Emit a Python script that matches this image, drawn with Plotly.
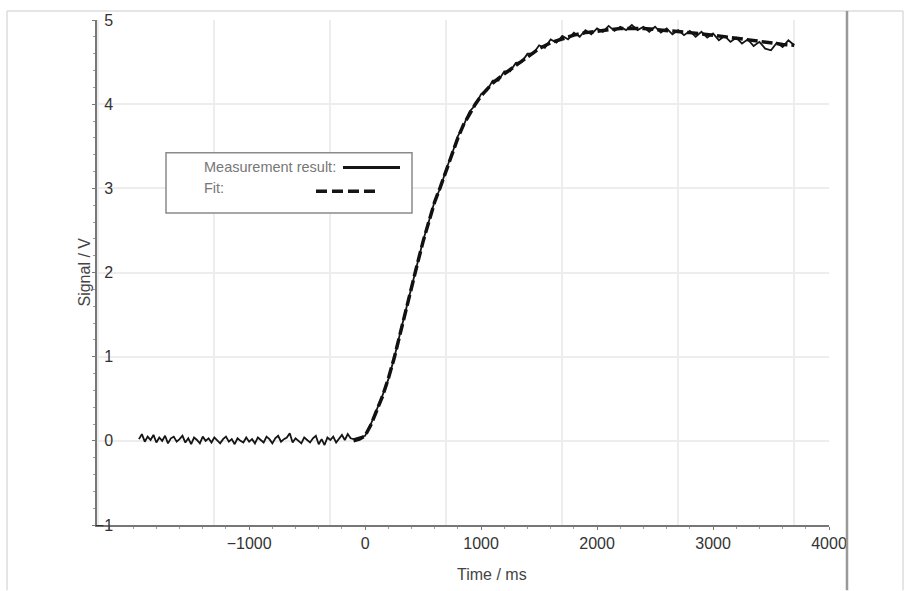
import plotly.graph_objects as go

# ---------------- data ----------------
# baseline part sampled every 25 ms, the rest every 50 ms
meas_t = list(range(-1950, -100, 25)) + list(range(-100, 3701, 50))
meas_v = [
    # baseline -1950..-125 (25 ms)
    0.02, 0.08, -0.01, 0.05, 0.01, 0.07, -0.02, 0.04, 0.00, 0.06,
    -0.03, 0.03, 0.05, -0.01, 0.02, 0.06, -0.02, 0.03, -0.04, 0.04,
    0.01, -0.03, 0.05, 0.00, 0.03, -0.02, 0.04, 0.01, -0.03, 0.02,
    0.05, -0.01, 0.02, -0.04, 0.03, 0.00, -0.02, 0.04, -0.01, 0.02,
    -0.03, 0.04, 0.01, -0.02, 0.05, 0.02, -0.03, 0.03, 0.06, -0.01,
    0.02, 0.04, 0.09, -0.02, 0.03, 0.00, -0.03, 0.04, 0.01, -0.02,
    0.03, 0.06, -0.04, 0.02, -0.05, 0.04, 0.01, 0.05, -0.02, 0.03,
    0.07, 0.01, 0.08, 0.03,
    # -100..3700 (50 ms)
    0.02,
    0.04, 0.06, 0.20, 0.36, 0.54, 0.73, 0.98, 1.27, 1.54, 1.84,     # -50..400
    2.10, 2.38, 2.61, 2.85, 3.01, 3.23, 3.41, 3.62, 3.75, 3.91,     # 450..900
    3.99, 4.12, 4.16, 4.28, 4.28, 4.39, 4.39, 4.49, 4.50, 4.60,     # 950..1400
    4.60, 4.70, 4.67, 4.77, 4.73, 4.81, 4.77, 4.85, 4.80, 4.88,     # 1450..1900
    4.83, 4.90, 4.86, 4.93, 4.87, 4.92, 4.88, 4.94, 4.88, 4.92,     # 1950..2400
    4.86, 4.92, 4.85, 4.90, 4.83, 4.88, 4.82, 4.87, 4.80, 4.86,     # 2450..2900
    4.79, 4.84, 4.76, 4.81, 4.74, 4.79, 4.72, 4.77, 4.69, 4.74,     # 2950..3400
    4.66, 4.64, 4.73, 4.68, 4.76, 4.70,                             # 3450..3700
]

fit_t = [-100, -50, 0, 50, 100, 150, 200, 250, 300, 350, 400, 450, 500, 550, 600,
         650, 700, 750, 800, 850, 900, 950, 1000, 1100, 1200, 1300, 1400, 1500,
         1600, 1700, 1800, 1900, 2000, 2200, 2400, 2600, 2800, 3000, 3200, 3400,
         3600, 3700]
fit_v = [0.0, 0.02, 0.06, 0.19, 0.36, 0.53, 0.74, 0.98, 1.26, 1.55, 1.83, 2.1,
         2.37, 2.62, 2.84, 3.02, 3.22, 3.42, 3.6, 3.76, 3.89, 4.0, 4.1, 4.25,
         4.36, 4.46, 4.57, 4.66, 4.73, 4.78, 4.82, 4.85, 4.87, 4.9, 4.9, 4.88,
         4.85, 4.82, 4.78, 4.74, 4.71, 4.70]

x_ticks = [-1000, 0, 1000, 2000, 3000, 4000]
y_ticks = [-1, 0, 1, 2, 3, 4, 5]
series_names = ["Measurement result:", "Fit:"]
x_title = "Time / ms"
y_title = "Signal / V"

# ---------------- layout geometry (pixels) ----------------
W_FIG, H_FIG = 911, 591
L, R, T, B = 97, 829, 15, 525
PW, PH = R - L, B - T


def px(x):
    return (x - L) / PW


def py(y):
    return (B - y) / PH


FONT = "Liberation Sans, Arial, sans-serif"

fig = go.Figure()
fig.add_trace(go.Scatter(x=meas_t, y=meas_v, mode="lines", name=series_names[0],
                         line=dict(color="#151515", width=1.8), showlegend=False))
fig.add_trace(go.Scatter(x=fit_t, y=fit_v, mode="lines", name=series_names[1],
                         line=dict(color="#111111", width=3.5, dash="11px,4px"),
                         showlegend=False))

x_range = [-2312, 4000]

fig.update_layout(
    width=W_FIG, height=H_FIG,
    autosize=False,
    margin=dict(l=L, r=W_FIG - R, t=T, b=H_FIG - B, pad=0),
    paper_bgcolor="white", plot_bgcolor="white",
    font=dict(family=FONT, color="#333"),
    xaxis=dict(range=x_range, showgrid=False, zeroline=False,
               showline=True, linecolor="#777", linewidth=1.5,
               tickmode="array", tickvals=x_ticks,
               ticks="outside", ticklen=3, tickcolor="#777",
               tickfont=dict(size=16, color="#333"),
               minor=dict(ticks="outside", ticklen=2, tickmode="linear",
                          tick0=0, dtick=200, tickcolor="#999")),
    xaxis2=dict(range=x_range, overlaying="x", anchor="y", side="bottom",
                showgrid=True, gridcolor="#ededed", gridwidth=1.5,
                tickmode="linear", tick0=-303, dtick=1000,
                showticklabels=False, ticks="", showline=False, zeroline=False),
    yaxis=dict(range=[-1, 5], showgrid=True, gridcolor="#ededed", gridwidth=1.5,
               zeroline=False, showline=True, linecolor="#777", linewidth=1.5,
               tickmode="array", tickvals=y_ticks,
               ticks="outside", ticklen=3, tickcolor="#777",
               ticklabelstandoff=-24,
               tickfont=dict(size=16, color="#333"),
               minor=dict(ticks="outside", ticklen=2, tickmode="linear",
                          tick0=0, dtick=0.2, tickcolor="#999")),
)

# hidden helper so the grid axis is rendered
fig.add_trace(go.Scatter(x=[fit_t[0]], y=[fit_v[0]], xaxis="x2", mode="lines",
                         opacity=0, hoverinfo="skip", showlegend=False))

shapes = []
# outer frame (screenshot border)
shapes.append(dict(type="line", xref="paper", yref="paper", x0=px(7), x1=px(903),
                   y0=py(6), y1=py(6), line=dict(color="#dcdcdc", width=1.5)))
shapes.append(dict(type="line", xref="paper", yref="paper", x0=px(7), x1=px(7),
                   y0=py(6), y1=py(591), line=dict(color="#dcdcdc", width=1.5)))
shapes.append(dict(type="line", xref="paper", yref="paper", x0=px(903), x1=px(903),
                   y0=py(6), y1=py(591), line=dict(color="#dcdcdc", width=1.5)))
shapes.append(dict(type="line", xref="paper", yref="paper", x0=px(847), x1=px(847),
                   y0=py(6), y1=py(591), line=dict(color="#999", width=2.5)))
# legend box
shapes.append(dict(type="rect", xref="paper", yref="paper", x0=px(166), x1=px(412),
                   y0=py(210), y1=py(149), line=dict(color="#8a8a8a", width=1.5),
                   fillcolor="white", layer="above"))
shapes.append(dict(type="line", xref="paper", yref="paper", x0=px(343), x1=px(400),
                   y0=py(164), y1=py(164), line=dict(color="#151515", width=3),
                   layer="above"))
shapes.append(dict(type="line", xref="paper", yref="paper", x0=px(316), x1=px(379),
                   y0=py(188), y1=py(188), line=dict(color="#151515", width=3.5,
                                                     dash="11px,5px"),
                   layer="above"))
fig.update_layout(shapes=shapes)

annotations = [
    dict(text=series_names[0], xref="paper", yref="paper", x=px(202), y=py(163),
         xanchor="left", yanchor="middle", showarrow=False,
         font=dict(size=14.5, color="#777", family=FONT)),
    dict(text=series_names[1], xref="paper", yref="paper", x=px(202), y=py(185),
         xanchor="left", yanchor="middle", showarrow=False,
         font=dict(size=14.5, color="#777", family=FONT)),
    dict(text=x_title, xref="paper", yref="paper", x=px(492), y=py(575),
         xanchor="center", yanchor="middle", showarrow=False,
         font=dict(size=16, color="#444", family=FONT)),
    dict(text=y_title, xref="paper", yref="paper", x=px(84), y=py(270),
         xanchor="center", yanchor="middle", showarrow=False, textangle=-90,
         font=dict(size=16, color="#444", family=FONT)),
]
fig.update_layout(annotations=annotations)

fig.write_html("out.html", config={"displayModeBar": False},
               post_script="document.body.style.margin='0';")
